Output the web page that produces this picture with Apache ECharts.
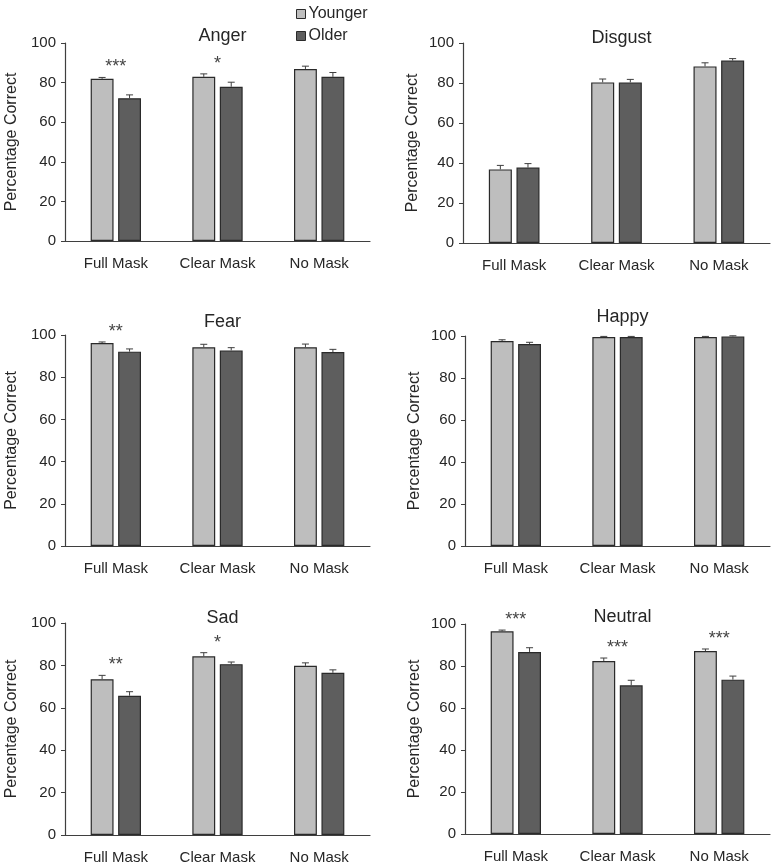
<!DOCTYPE html>
<html>
<head>
<meta charset="utf-8">
<script src="https://cdn.jsdelivr.net/npm/echarts@6/dist/echarts.min.js"></script>
<style>
  html, body { margin: 0; padding: 0; background: #fff; }
  #chart { width: 776px; height: 866px; }
</style>
</head>
<body>
<div id="chart"></div>
<script>
const categories = ["Full Mask", "Clear Mask", "No Mask"];
const emotions = ["Anger", "Disgust", "Fear", "Happy", "Sad", "Neutral"];

// one row per emotion, columns follow categories
const younger = [
  [81.9, 82.9, 86.9],
  [36.8, 80.3, 88.3],
  [96.2, 94.2, 94.2],
  [97.6, 99.5, 99.5],
  [73.5, 84.3, 79.8],
  [96.5, 82.4, 87.1],
];
const older = [
  [72.1, 77.9, 82.9],
  [37.7, 80.3, 91.2],
  [92.1, 92.7, 91.9],
  [96.2, 99.5, 99.8],
  [65.7, 80.6, 76.5],
  [86.7, 70.8, 73.5],
];
const youngerErr = [
  [0.7, 1.5, 1.4],
  [2.0, 1.7, 1.8],
  [0.5, 1.4, 1.5],
  [0.6, 0.3, 0.3],
  [1.8, 1.7, 1.4],
  [0.6, 1.4, 1.0],
];
const olderErr = [
  [1.7, 2.3, 2.2],
  [2.0, 1.5, 1.0],
  [1.3, 1.3, 1.3],
  [0.8, 0.3, 0.3],
  [1.9, 1.0, 1.4],
  [2.0, 2.4, 1.7],
];
const stars = [
  ["***", "*", ""],
  ["", "", ""],
  ["**", "", ""],
  ["", "", ""],
  ["**", "*", ""],
  ["***", "***", "***"],
];

const FONT = "Liberation Sans, Arial, sans-serif";
const TEXT = "#262626";
const AXIS = "#3f3f3f";
const LIGHT = "#bebebe";
const DARK = "#5e5e5e";
const BAR_W = 0.225; // share of band
const GAP = 0.2;     // share of bar width

// panel layout [left, top, width, height, titleTop, nameGap]
const grids = [
  [65, 43, 305, 198, 22, 45],
  [463, 43, 307, 200, 24, 42],
  [65, 335, 305, 211, 308, 45],
  [465, 336, 305, 210, 303, 42],
  [65, 623, 305, 212, 604, 45],
  [465, 624, 305, 210, 603, 42],
];

// one-sided error bar, shifted onto the younger (-1) or older (+1) bar
function errorRender(side) {
  return function (params, api) {
    const x = api.value(0);
    const v = api.value(1);
    const e = api.value(2);
    const band = api.size([1, 0])[0];
    const bw = band * BAR_W;
    const off = side * (bw * (1 + GAP)) / 2;
    const base = api.coord([x, v]);
    const top = api.coord([x, v + e]);
    const cx = base[0] + off;
    return {
      type: "group",
      children: [
        { type: "line", shape: { x1: cx, y1: base[1], x2: cx, y2: top[1] },
          style: { stroke: AXIS, lineWidth: 1 } },
        { type: "line", shape: { x1: cx - 3.5, y1: top[1], x2: cx + 3.5, y2: top[1] },
          style: { stroke: AXIS, lineWidth: 1 } },
      ],
    };
  };
}

const chart = echarts.init(document.getElementById("chart"));

const grid = [], xAxis = [], yAxis = [], title = [], series = [];

emotions.forEach((name, i) => {
  const [left, top, width, height, titleTop, nameGap] = grids[i];
  grid.push({ left, top, width, height, containLabel: false });
  title.push({
    text: name,
    left: left + width / 2,
    top: titleTop,
    textAlign: "center",
    textStyle: { fontFamily: FONT, fontSize: 18, fontWeight: "normal", color: TEXT },
  });
  xAxis.push({
    type: "category",
    gridIndex: i,
    data: categories,
    axisTick: { show: false },
    axisLine: { lineStyle: { color: AXIS, width: 1.2 } },
    axisLabel: { fontFamily: FONT, fontSize: 15, color: TEXT, margin: 15 },
  });
  yAxis.push({
    type: "value",
    gridIndex: i,
    min: 0,
    max: 100,
    interval: 20,
    name: "Percentage Correct",
    nameLocation: "middle",
    nameRotate: 90,
    nameGap,
    nameTextStyle: { fontFamily: FONT, fontSize: 16, color: TEXT },
    splitLine: { show: false },
    axisLine: { show: true, lineStyle: { color: AXIS, width: 1.2 } },
    axisTick: { show: true, inside: false, length: 4, lineStyle: { color: AXIS } },
    axisLabel: { fontFamily: FONT, fontSize: 15, color: TEXT, margin: 9 },
  });

  const barCommon = {
    type: "bar",
    xAxisIndex: i,
    yAxisIndex: i,
    barWidth: BAR_W * 100 + "%",
    barGap: GAP * 100 + "%",
    animation: false,
  };
  series.push({
    ...barCommon,
    name: "Younger",
    data: younger[i],
    itemStyle: { color: LIGHT, borderColor: "#2a2a2a", borderWidth: 1.2 },
  });
  series.push({
    ...barCommon,
    name: "Older",
    data: older[i],
    itemStyle: { color: DARK, borderColor: "#2a2a2a", borderWidth: 1.2 },
  });
  series.push({
    type: "custom",
    xAxisIndex: i,
    yAxisIndex: i,
    renderItem: errorRender(-1),
    data: younger[i].map((v, k) => [k, v, youngerErr[i][k]]),
    z: 5,
    silent: true,
    animation: false,
  });
  series.push({
    type: "custom",
    xAxisIndex: i,
    yAxisIndex: i,
    renderItem: errorRender(1),
    data: older[i].map((v, k) => [k, v, olderErr[i][k]]),
    z: 5,
    silent: true,
    animation: false,
  });
  // significance stars sit a little above the taller error bar
  const starLabels = stars[i];
  series.push({
    type: "custom",
    xAxisIndex: i,
    yAxisIndex: i,
    renderItem: function (params, api) {
      const p = api.coord([api.value(0), api.value(1)]);
      return {
        type: "text",
        x: p[0],
        y: p[1] - 10,
        style: {
          text: starLabels[params.dataIndex],
          fontSize: 18,
          fontFamily: FONT,
          fill: "#444",
          align: "center",
          verticalAlign: "middle",
        },
      };
    },
    data: categories.map((c, k) => [
      k,
      Math.max(younger[i][k] + youngerErr[i][k], older[i][k] + olderErr[i][k]),
    ]),
    clip: false,
    z: 6,
    silent: true,
    animation: false,
  });
});

chart.setOption({
  backgroundColor: "#fff",
  animation: false,
  title,
  legend: {
    data: ["Younger", "Older"],
    orient: "vertical",
    left: 291,
    top: 0,
    icon: "rect",
    itemWidth: 9,
    itemHeight: 9,
    itemGap: 4,
    selectedMode: false,
    itemStyle: { borderColor: "#2a2a2a", borderWidth: 1 },
    textStyle: { fontFamily: FONT, fontSize: 16, color: TEXT, lineHeight: 18, padding: [0, 0, 0, -2] },
  },
  grid,
  xAxis,
  yAxis,
  series,
});
</script>
</body>
</html>
